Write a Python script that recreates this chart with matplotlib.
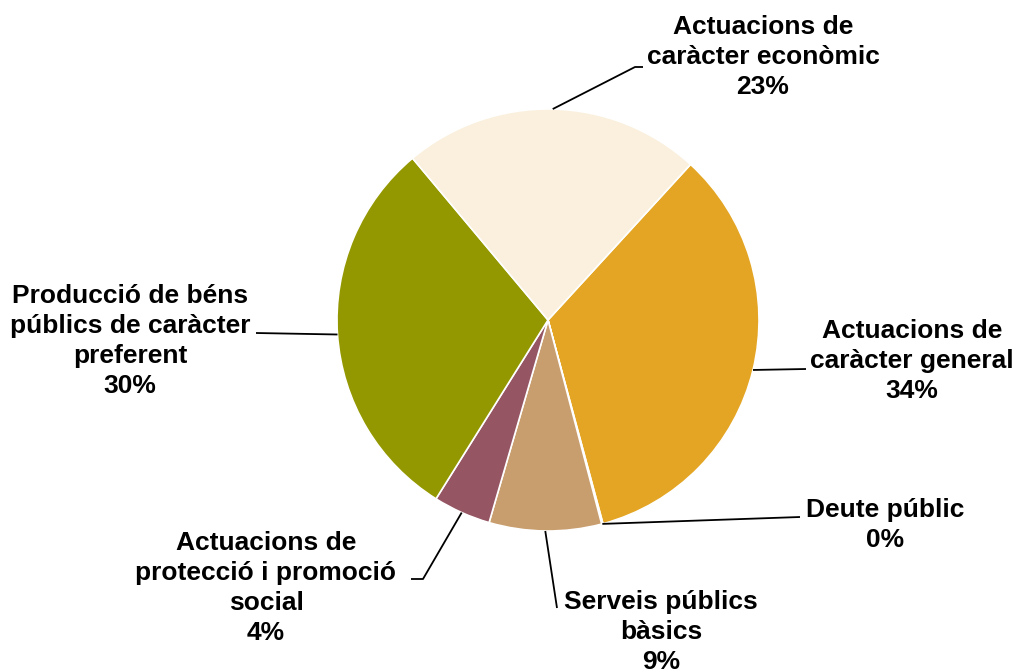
import numpy as np
import matplotlib
matplotlib.use("Agg")
import matplotlib.pyplot as plt

# data
categories = [
    "Actuacions de\ncaràcter general",
    "Deute públic",
    "Serveis públics\nbàsics",
    "Actuacions de\nprotecció i promoció\nsocial",
    "Producció de béns\npúblics de caràcter\npreferent",
    "Actuacions de\ncaràcter econòmic",
]
values = [34.0, 0.1, 8.6, 4.4, 30.0, 22.9]
colors = ["#E3A523", "#E3A523", "#C99E6E", "#955563", "#949800", "#FAF0DD"]

W, H = 1020, 672
CX, CY, R = 548, 320, 211   # pie centre / radius, pixels from top-left

# label layout: text centre and elbow points (pixels from top-left)
label_pos = [(912, 361), (885, 525), (661, 632), (266, 588), (130, 341), (763, 57)]
elbows = [
    [(806, 369)],
    [(800, 517)],
    [(557, 608)],
    [(423, 579), (411, 579)],
    [(256, 333)],
    [(635, 67), (643, 67)],
]

plt.rcParams["font.family"] = ["Liberation Sans", "DejaVu Sans"]

fig = plt.figure(figsize=(W / 100, H / 100), dpi=100)
ax = fig.add_axes([0, 0, 1, 1])

start = 47.5
wedges, _ = ax.pie(values, colors=colors, startangle=start, counterclock=False,
                   center=(CX, H - CY), radius=R, frame=True,
                   wedgeprops=dict(edgecolor="white", linewidth=1.2))
ax.set_xlim(0, W)
ax.set_ylim(0, H)
ax.set_aspect("equal")
ax.axis("off")

total = sum(values)
for w, cat, v, (tx, ty), elb in zip(wedges, categories, values, label_pos, elbows):
    mid = np.deg2rad((w.theta1 + w.theta2) / 2)
    px = CX + R * np.cos(mid)
    py = H - CY + R * np.sin(mid)
    xs = [px] + [e[0] for e in elb]
    ys = [py] + [H - e[1] for e in elb]
    ax.plot(xs, ys, color="black", lw=1.3, solid_capstyle="butt")
    ax.text(tx, H - ty, f"{cat}\n{v / total * 100:.0f}%", ha="center", va="center",
            fontsize=19, fontweight="bold", linespacing=1.32)

fig.savefig("out.png", dpi=100)
